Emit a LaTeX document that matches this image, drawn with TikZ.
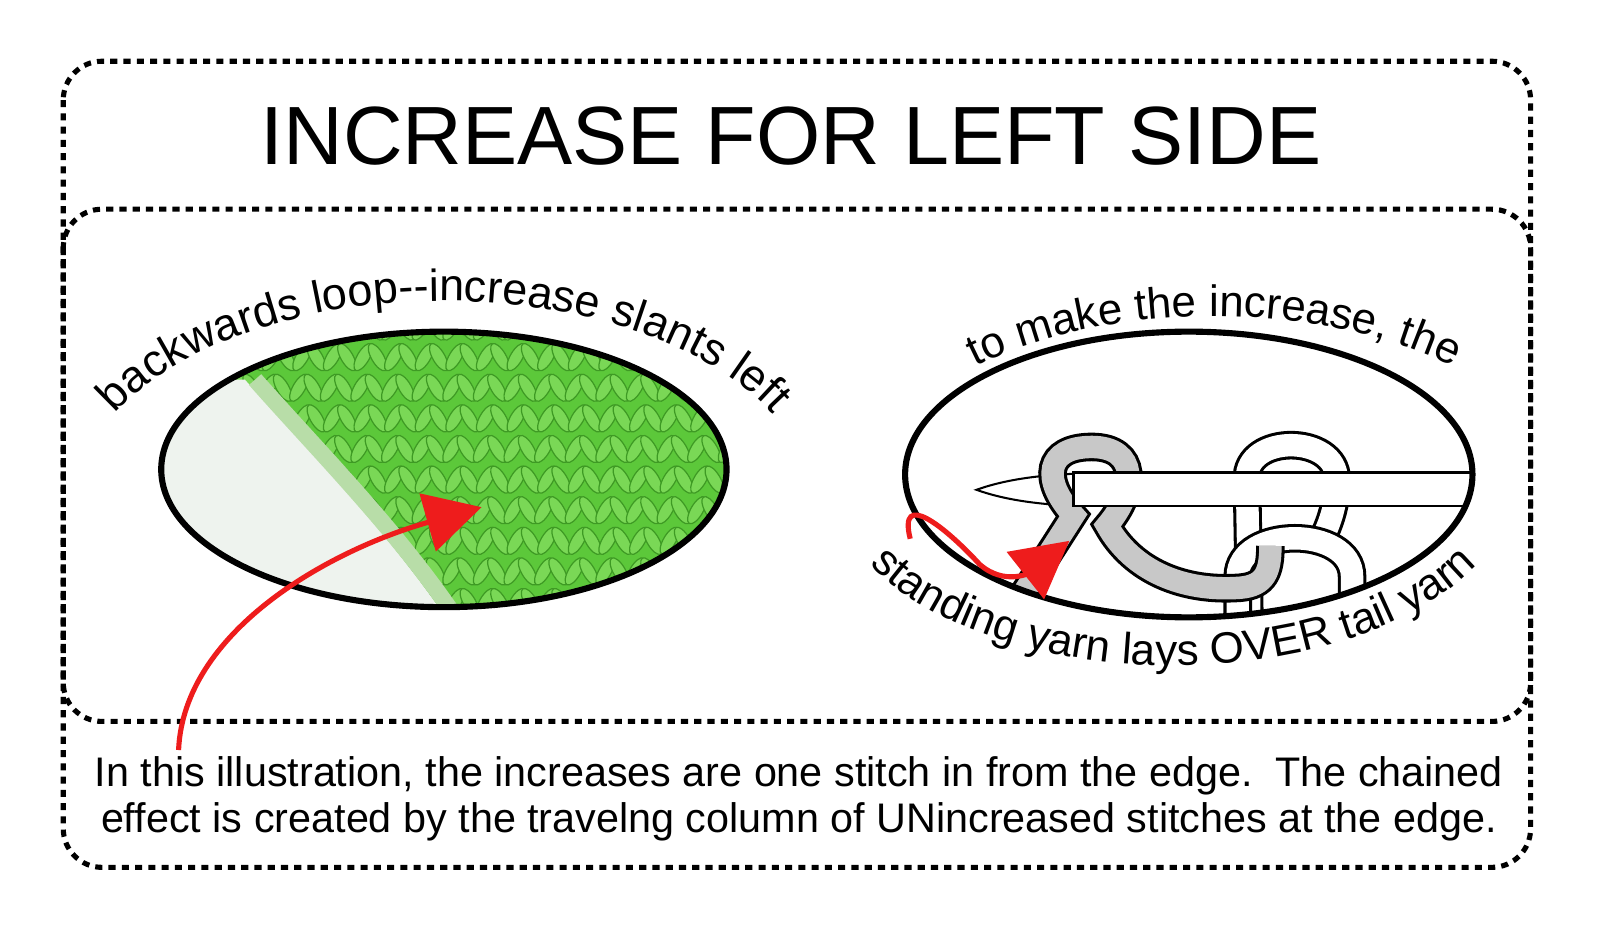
\documentclass[tikz,border=0pt]{standalone}
\usepackage{fontspec}
\setmainfont{Liberation Sans}
\usetikzlibrary{decorations.text,arrows.meta}
\definecolor{kgreen}{HTML}{5CC83A}
\definecolor{kdark}{HTML}{3E9A24}
\definecolor{klight}{HTML}{7AD856}
\definecolor{kred}{HTML}{EE1C1C}
\definecolor{ygray}{HTML}{C8C8C8}
\definecolor{kwhite}{HTML}{EEF3EE}
\definecolor{kpale}{HTML}{B8DDA8}
\tikzset{
  dotbox/.style={draw, line width=5, dash pattern=on 7pt off 6pt, rounded corners=38},
  rim/.style={draw, line width=6},
  curvetext/.style={decorate, decoration={text along path, text align=center, text format delimiters={|}{|}}},
  yarn/.style={draw=#1, line width=22, preaction={draw=black, line width=28}},
  redarrow/.style={draw=kred, line width=5, -{Triangle[length=55pt,width=58pt]}},
}
\begin{document}%
\begin{tikzpicture}[x=1pt,y=-1pt]%
\fill[white] (0,0) rectangle (1568,911);
% boxes
\draw[dotbox] (62,60) rectangle (1500,850);
\draw[dotbox] (62,205) rectangle (1500,707);
\node (title) at (775,133) {\fontsize{81}{85}\selectfont INCREASE FOR LEFT SIDE};
% left photo
\begin{scope}
\clip (435,460) ellipse [x radius=277, y radius=135];
\fill[kgreen] (150,320) rectangle (720,600);
\foreach \c in {0,...,19}{%
  \foreach \r in {0,...,9}{%
    \pgfmathsetmacro{\xx}{150+\c*30+mod(\r,2)*3}%
    \pgfmathsetmacro{\yy}{320+\r*30}%
    \draw[kdark, fill=klight, line width=1.2] (\xx-7,\yy) ellipse [x radius=6, y radius=15, rotate=-30];
    \draw[kdark, fill=klight, line width=1.2] (\xx+7,\yy) ellipse [x radius=6, y radius=15, rotate=30];
  }%
}
\fill[kwhite] (150,372) -- (240,372) .. controls (300,440) and (380,520) .. (440,610) -- (150,610) -- cycle;
\draw[kpale, line width=16] (250,372) .. controls (310,440) and (390,520) .. (450,610);
\end{scope}
\draw[rim] (435,460) ellipse [x radius=277, y radius=135];
\path[curvetext, decoration={text={|\fontsize{44}{48}\selectfont|backwards loop--increase slants left}}]
  (435,495) ++(195:360 and 200) arc [start angle=195, end angle=345, x radius=360, y radius=200];
% right drawing
\begin{scope}
\clip (1165,465) ellipse [x radius=278, y radius=140];
\draw[line width=2, fill=white] (957,480) .. controls (990,468) and (1030,465) .. (1060,464) -- (1060,496) .. controls (1030,495) and (990,492) .. (957,480) -- cycle;
\draw[yarn=white] (1225,640) -- (1222,470) .. controls (1220,425) and (1310,425) .. (1310,470) .. controls (1310,500) and (1300,520) .. (1290,540);
\draw[yarn=white] (1213,640) -- (1213,565) .. controls (1213,515) and (1325,515) .. (1325,565) -- (1325,610);
\draw[yarn=ygray] (975,625) -- (1052,505) .. controls (1020,470) and (1025,438) .. (1070,438) .. controls (1115,438) and (1115,480) .. (1085,515) .. controls (1110,560) and (1160,580) .. (1215,576) .. controls (1240,574) and (1245,560) .. (1245,535);
\draw[line width=2.5, fill=white] (1052,463) rectangle (1480,496);
\end{scope}
\draw[rim] (1165,465) ellipse [x radius=278, y radius=140];
\path[curvetext, decoration={text={|\fontsize{43}{46}\selectfont|to make the increase{,} the}}]
  (1190,490) ++(205:340 and 180) arc [start angle=205, end angle=335, x radius=340, y radius=180];
\path[curvetext, decoration={text={|\fontsize{43}{46}\selectfont|standing yarn lays OVER tail yarn}}]
  (1150,470) ++(168:335 and 182) arc [start angle=168, end angle=12, x radius=335, y radius=182];
% red arrows
\coordinate (a1) at (175,735);
\coordinate (h1) at (472,497);
\draw[redarrow] (a1) .. controls (180,620) and (320,540) .. (h1);
\coordinate (a2) at (892,528);
\coordinate (h2) at (1048,530);
\draw[redarrow] (a2) .. controls (880,480) and (925,515) .. (960,553) .. controls (985,575) and (1010,560) .. (h2);
% bottom text
\node[align=center, font=\fontsize{40.5}{45}\selectfont] (note) at (783,783)
  {In this illustration, the increases are one stitch in from the edge.\ \ The chained\\effect is created by the travelng column of UNincreased stitches at the edge.};
\pgfresetboundingbox
\useasboundingbox (0,0) rectangle (1568,911);
\end{tikzpicture}%
\end{document}
